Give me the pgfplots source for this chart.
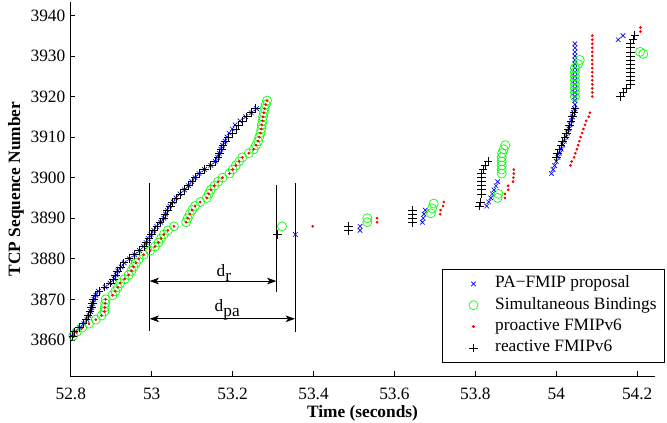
\documentclass[border=0pt]{standalone}
\usepackage{fontspec}
\setmainfont{Liberation Serif}
\usepackage{pgfplots}
\pgfplotsset{compat=1.18}
\usetikzlibrary{arrows.meta}

\begin{document}
\fontsize{13}{15}\selectfont
\begin{tikzpicture}
\begin{axis}[
  scale only axis,
  width=438.75pt, height=280.5pt,
  xmin=52.798, xmax=54.244,
  ymin=3851.1, ymax=3943.3,
  axis lines*=left,
  axis line style={black, line width=0.6pt},
  tick align=inside,
  major tick length=3.75pt,
  tick style={black, line width=0.5pt},
  xtick={52.8,53,53.2,53.4,53.6,53.8,54,54.2},
  xticklabels={52.8,53,53.2,53.4,53.6,53.8,54,54.2},
  ytick={3860,3870,3880,3890,3900,3910,3920,3930,3940},
  /pgf/number format/assume math mode=true,
  yticklabel style={/pgf/number format/1000 sep={}, xshift=1pt},
  xticklabel style={yshift=-4.5pt},
  tick label style={font=\fontsize{13}{15}\selectfont},
  xlabel={\textbf{Time (seconds)}},
  ylabel={\textbf{TCP Sequence Number}},
  label style={font=\fontsize{13}{15}\selectfont},
  ylabel style={at={(axis description cs:-0.0923,0.5)}, anchor=center},
  xlabel style={at={(axis description cs:0.5,-0.1)}, anchor=center},
  legend style={at={(1.017,0.035)}, anchor=south east, draw=black, line width=0.6pt,
    font=\fontsize{13}{15}\selectfont, row sep=0pt, inner xsep=4pt, inner ysep=3pt,
    nodes={inner sep=2pt, text height=9pt, text depth=3pt}},
  legend cell align=left,
  legend image code/.code={\path (0pt,0pt) (33pt,0pt); \draw[mark repeat=1,#1] plot coordinates {(19pt,0pt)};},
  clip=false,
]
% PA-FMIP proposal
\addplot[only marks, mark=x, mark size=2.4pt, color=blue, line width=0.5pt] coordinates {
(52.803,3861)(52.810,3862)(52.822,3863)(52.832,3864)(52.840,3865)(52.845,3866)(52.849,3867)(52.852,3868)(52.854,3869)(52.857,3870)
(52.862,3871)(52.868,3872)(52.885,3873)(52.897,3874)(52.907,3875)(52.912,3876)(52.916,3877)(52.924,3878)(52.932,3879)(52.945,3880)
(52.958,3881)(52.970,3882)(52.980,3883)(52.986,3884)(52.992,3885)(52.998,3886)(53.005,3887)(53.012,3888)(53.022,3889)(53.030,3890)
(53.034,3891)(53.038,3892)(53.045,3893)(53.053,3894)(53.060,3895)(53.070,3896)(53.081,3897)(53.091,3898)(53.099,3899)(53.107,3900)
(53.117,3901)(53.130,3902)(53.146,3903)(53.157,3904)(53.163,3905)(53.167,3906)(53.171,3907)(53.175,3908)(53.181,3909)(53.186,3910)
(53.191,3911)(53.199,3912)(53.206,3913)(53.218,3914)(53.232,3915)(53.246,3916)(53.259,3917)
(53.355,3886)
(53.515,3887)(53.515,3888)
(53.669,3889)(53.671,3890)(53.673,3891)(53.676,3892)
(53.828,3893)(53.833,3894)(53.838,3895)(53.842,3896)(53.846,3897)(53.851,3898)(53.855,3899)
(53.988,3901)(53.992,3902)(53.996,3903)(54.000,3904)(54.004,3905)(54.008,3906)(54.012,3907)(54.016,3908)(54.020,3909)(54.024,3910)
(54.028,3911)(54.031,3912)(54.034,3913)(54.037,3914)(54.040,3915)(54.043,3916)(54.045,3917)
(54.046,3918)(54.046,3919)(54.046,3920)(54.046,3921)(54.046,3922)(54.046,3923)(54.046,3924)(54.046,3925)(54.046,3926)(54.046,3927)
(54.046,3928)(54.046,3929)(54.046,3930)(54.046,3931)(54.046,3932)(54.046,3933)
(54.153,3934)(54.165,3935)
};
\addlegendentry{PA−FMIP proposal}
% Simultaneous Bindings
\addplot[only marks, mark=o, mark size=3.4pt, color=green, line width=0.5pt] coordinates {
(52.806,3861)(52.815,3862)(52.828,3863)(52.845,3864)(52.862,3865)(52.876,3866)(52.883,3867)(52.884,3868)(52.885,3869)(52.886,3870)
(52.903,3871)(52.910,3872)(52.916,3873)(52.922,3874)(52.933,3875)(52.943,3876)(52.950,3877)(52.955,3878)(52.961,3879)(52.968,3880)
(52.980,3881)(52.996,3882)(53.008,3883)(53.017,3884)(53.023,3885)(53.030,3886)(53.040,3887)(53.055,3888)
(53.085,3889)(53.089,3890)(53.094,3891)(53.100,3892)(53.107,3893)(53.120,3894)(53.136,3895)(53.141,3896)(53.146,3897)(53.155,3898)
(53.164,3899)(53.175,3900)(53.192,3901)(53.200,3902)(53.208,3903)(53.216,3904)(53.224,3905)(53.240,3906)(53.252,3907)(53.258,3908)
(53.263,3909)(53.266,3910)(53.269,3911)(53.271,3912)(53.272,3913)(53.274,3914)(53.275,3915)(53.277,3916)(53.279,3917)(53.282,3918)(53.285,3919)
(53.322,3888)
(53.533,3889)(53.533,3890)
(53.690,3891.2)(53.693,3892.4)(53.697,3893.6)
(53.855,3895)(53.857,3896)
(53.865,3901)(53.865,3902)(53.865,3903)(53.865,3904)(53.865,3905)(53.866,3906)(53.870,3907)(53.874,3908)
(54.046,3920)(54.046,3921)(54.046,3922)(54.046,3923)(54.046,3924)(54.046,3925)(54.046,3926)(54.046,3927)
(54.054,3928)(54.058,3929)
(54.207,3931)(54.215,3930.5)
};
\addlegendentry{Simultaneous Bindings}
% proactive FMIPv6
\addplot[only marks, mark=*, mark size=0.8pt, color=red, mark options={draw=red, fill=red}] coordinates {
(52.806,3861)(52.815,3862)(52.828,3863)(52.845,3864)(52.862,3865)(52.876,3866)(52.883,3867)(52.884,3868)(52.885,3869)(52.886,3870)
(52.903,3871)(52.910,3872)(52.916,3873)(52.922,3874)(52.933,3875)(52.943,3876)(52.950,3877)(52.955,3878)(52.961,3879)(52.968,3880)
(52.980,3881)(52.996,3882)(53.008,3883)(53.017,3884)(53.023,3885)(53.030,3886)(53.040,3887)(53.055,3888)
(53.085,3889)(53.089,3890)(53.094,3891)(53.100,3892)(53.107,3893)(53.120,3894)(53.136,3895)(53.141,3896)(53.146,3897)(53.155,3898)
(53.164,3899)(53.175,3900)(53.192,3901)(53.200,3902)(53.208,3903)(53.216,3904)(53.224,3905)(53.240,3906)(53.252,3907)(53.258,3908)
(53.263,3909)(53.266,3910)(53.269,3911)(53.271,3912)(53.272,3913)(53.274,3914)(53.275,3915)(53.277,3916)(53.279,3917)(53.282,3918)(53.285,3919)
(53.398,3888)
(53.557,3889)(53.557,3890)
(53.713,3891)(53.714,3892)(53.720,3893)(53.722,3894)
(53.873,3895)(53.873,3896)(53.881,3897)(53.881,3898)(53.893,3899)(53.894,3900)(53.895,3901)(53.895,3902)
(54.035,3903)(54.038,3904)(54.044,3905)(54.047,3906)(54.051,3907)(54.054,3908)(54.057,3909)(54.060,3910)(54.064,3911)(54.067,3912)
(54.071,3913)(54.074,3914)(54.080,3915)(54.083,3916)
(54.089,3920)(54.089,3921)(54.089,3922)(54.089,3923)(54.089,3924)(54.089,3925)(54.089,3926)(54.089,3927)(54.089,3928)(54.089,3929)
(54.089,3930)(54.089,3931)(54.089,3932)(54.089,3933)(54.089,3934)(54.089,3935)
(54.208,3936)(54.208,3937)
};
\addlegendentry{proactive FMIPv6}
% reactive FMIPv6
\addplot[only marks, mark=+, mark size=3.2pt, color=black, line width=0.5pt] coordinates {
(52.805,3861)(52.808,3862)(52.820,3863)(52.830,3864)(52.838,3865)(52.843,3866)(52.848,3867)(52.851,3868)(52.853,3869)(52.856,3870)
(52.861,3871)(52.870,3872)(52.884,3873)(52.898,3874)(52.906,3875)(52.911,3876)(52.915,3877)(52.923,3878)(52.931,3879)(52.944,3880)
(52.957,3881)(52.969,3882)(52.981,3883)(52.987,3884)(52.993,3885)(52.999,3886)(53.006,3887)(53.013,3888)(53.021,3889)(53.029,3890)
(53.033,3891)(53.039,3892)(53.046,3893)(53.052,3894)(53.061,3895)(53.071,3896)(53.080,3897)(53.090,3898)(53.100,3899)(53.108,3900)
(53.118,3901)(53.131,3902)(53.145,3903)(53.156,3904)(53.164,3905)(53.168,3906)(53.172,3907)(53.176,3908)(53.182,3909)(53.190,3910)
(53.200,3911)(53.208,3912)(53.214,3913)(53.225,3914)(53.235,3915)(53.245,3916)(53.256,3917)
(53.311,3886)
(53.486,3887)(53.486,3888)
(53.645,3889)(53.645,3890)(53.645,3891)(53.645,3892)
(53.810,3893)(53.813,3894)
(53.815,3896)(53.815,3897)(53.815,3898)(53.815,3899)(53.815,3900)(53.815,3901)(53.819,3902)(53.824,3903)(53.831,3904)
(54.000,3905)(54.003,3906)(54.007,3907)(54.012,3908)(54.016,3909)(54.021,3910)(54.025,3911)(54.029,3912)(54.033,3913)(54.036,3914)
(54.040,3915)(54.044,3916)(54.046,3917)
(54.159,3920)(54.165,3921)(54.172,3922)
(54.183,3923)(54.183,3924)(54.183,3925)(54.183,3926)(54.183,3927)(54.183,3928)(54.183,3929)(54.183,3930)(54.183,3931)(54.183,3932)(54.183,3933)
(54.190,3934)(54.194,3935)
};
\addlegendentry{reactive FMIPv6}
% annotations
\draw[black, line width=0.5pt] (axis cs:52.995,3898.6) -- (axis cs:52.995,3862.3);
\draw[black, line width=0.5pt] (axis cs:53.308,3898.2) -- (axis cs:53.308,3871.8);
\draw[black, line width=0.5pt] (axis cs:53.354,3898.6) -- (axis cs:53.354,3862.0);
\draw[black, line width=0.5pt, {Stealth[length=7pt,width=5pt,inset=2pt]}-{Stealth[length=7pt,width=5pt,inset=2pt]}] (axis cs:52.995,3874.5) -- (axis cs:53.308,3874.5);
\draw[black, line width=0.5pt, {Stealth[length=7pt,width=5pt,inset=2pt]}-{Stealth[length=7pt,width=5pt,inset=2pt]}] (axis cs:52.995,3865.2) -- (axis cs:53.354,3865.2);
\node[anchor=base west, inner sep=0pt] at (axis cs:53.160,3875.6) {d\raisebox{-0.6ex}{r}};
\node[anchor=base west, inner sep=0pt] at (axis cs:53.155,3867.0) {d\raisebox{-0.6ex}{pa}};
\end{axis}
\pgfresetboundingbox
\useasboundingbox ([xshift=-52.5pt,yshift=-35.25pt]current axis.south west) rectangle ([xshift=9pt,yshift=1.5pt]current axis.north east);
\end{tikzpicture}
\end{document}
